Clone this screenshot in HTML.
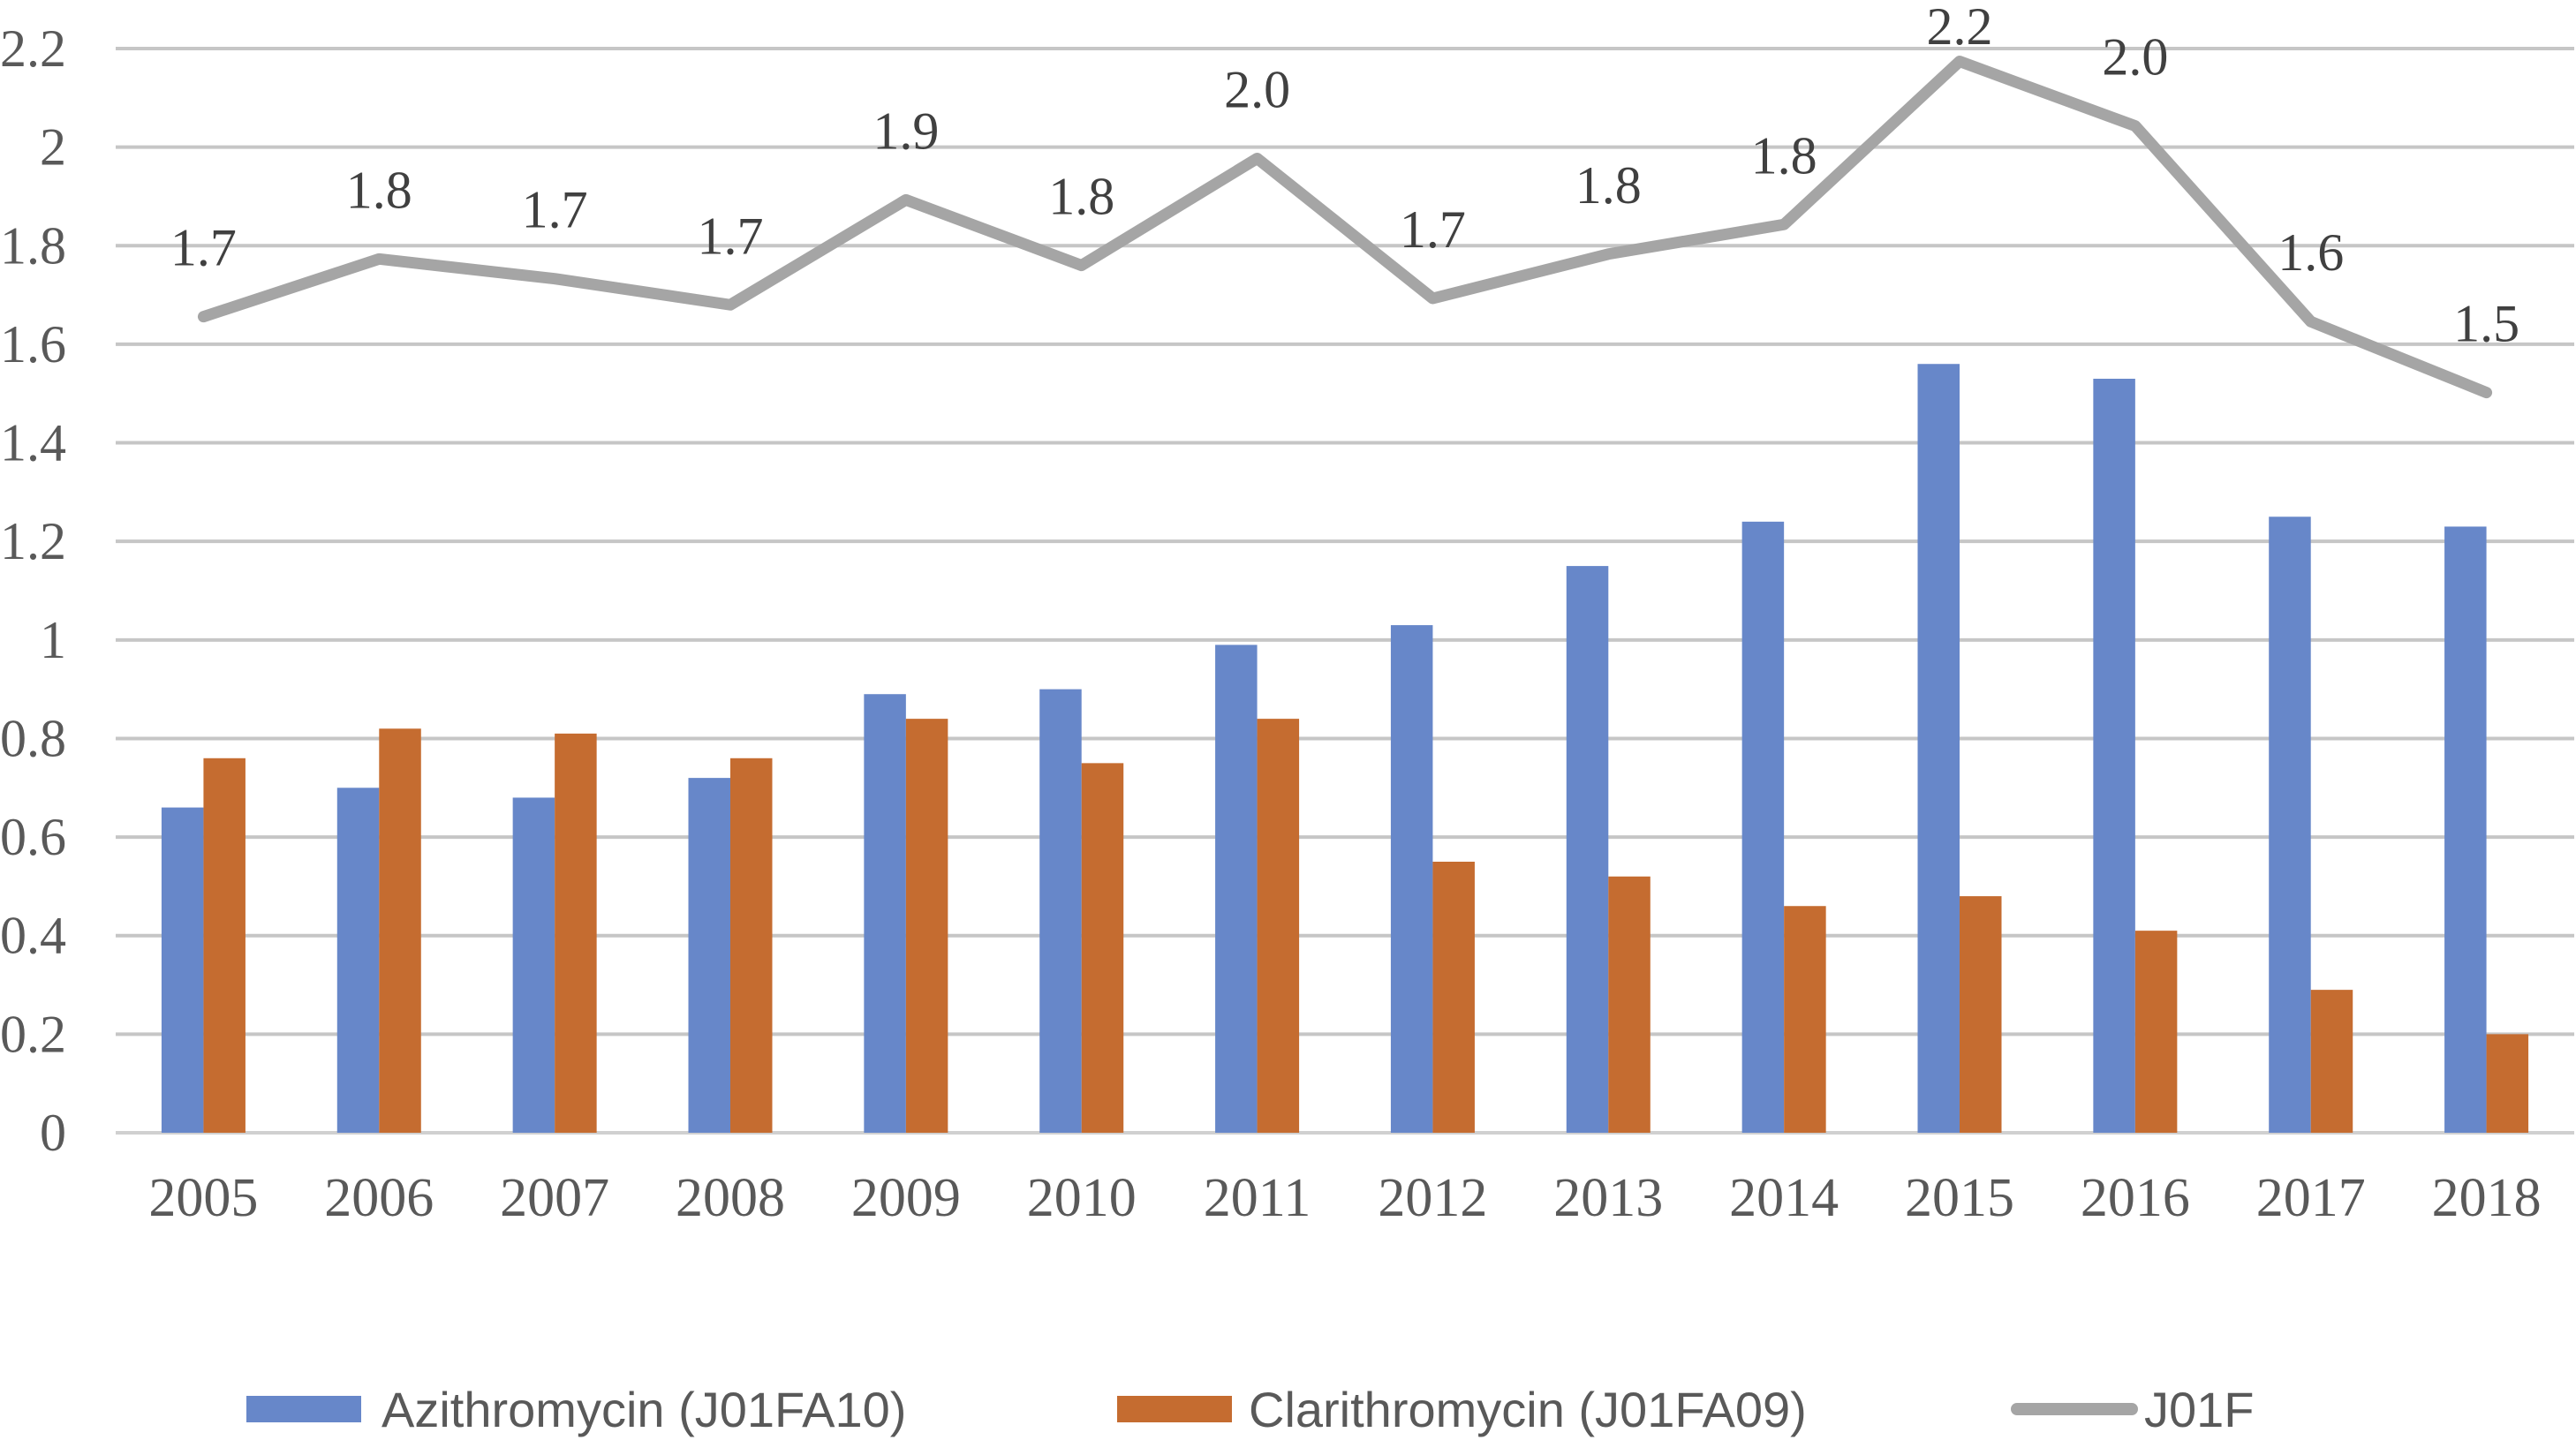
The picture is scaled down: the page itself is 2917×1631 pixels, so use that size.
<!DOCTYPE html>
<html><head><meta charset="utf-8"><style>
body{margin:0;background:#fff;}
svg{display:block;}
</style></head><body>
<svg id="chart" width="2917" height="1631" viewBox="0 0 2917 1631" xmlns="http://www.w3.org/2000/svg">
<g id="grid"></g>
<g id="yaxis"></g>
<g id="bars"></g>
<g id="line"></g>
<g id="xaxis"></g>
<g font-family="'Liberation Sans', sans-serif" font-size="56" fill="#595959">
  <rect x="279" y="1581" width="130" height="30" fill="#6787c9"/>
  <text x="432" y="1616">Azithromycin (J01FA10)</text>
  <rect x="1265" y="1581" width="130" height="30" fill="#c56c30"/>
  <text x="1414" y="1616">Clarithromycin (J01FA09)</text>
  <line x1="2284" y1="1596" x2="2414" y2="1596" stroke="#a5a5a5" stroke-width="14" stroke-linecap="round"/>
  <text x="2428" y="1616">J01F</text>
</g>
</svg>
<script>
const years = ["2005","2006","2007","2008","2009","2010","2011","2012","2013","2014","2015","2016","2017","2018"];
const azithro = [0.66,0.70,0.68,0.72,0.89,0.90,0.99,1.03,1.15,1.24,1.56,1.53,1.25,1.23];
const clarithro = [0.76,0.82,0.81,0.76,0.84,0.75,0.84,0.55,0.52,0.46,0.48,0.41,0.29,0.20];
const j01f = [1.656,1.773,1.733,1.68,1.893,1.76,1.977,1.693,1.783,1.843,2.174,2.043,1.646,1.502];
const j01fLabels = ["1.7","1.8","1.7","1.7","1.9","1.8","2.0","1.7","1.8","1.8","2.2","2.0","1.6","1.5"];
const yTicks = [0,0.2,0.4,0.6,0.8,1,1.2,1.4,1.6,1.8,2,2.2];
const yTickLabels = ["0","0.2","0.4","0.6","0.8","1","1.2","1.4","1.6","1.8","2","2.2"];

const NS="http://www.w3.org/2000/svg";
const L=131,R=2915,T=55,B=1283,YMAX=2.2;
const band=(R-L)/years.length;
const y=v=>B-(v/YMAX)*(B-T);
const xc=i=>L+band*(i+0.5);
const bw=47.5;
function mk(tag,attrs,parent){const e=document.createElementNS(NS,tag);for(const k in attrs)e.setAttribute(k,attrs[k]);document.getElementById(parent).appendChild(e);return e;}

yTicks.forEach((t,i)=>{
  const g=mk('line',{x1:L,x2:R,y1:y(t),y2:y(t),stroke:t===0?'#d0d0d0':'#c6c6c6','stroke-width':4},'grid');
  
  
  const tx=mk('text',{x:75,y:y(t)+20,'text-anchor':'end','font-family':"'Liberation Serif', serif",'font-size':60,fill:'#595959'},'yaxis');
  tx.textContent=yTickLabels[i];
  
  
});
years.forEach((yr,i)=>{
  const c=xc(i);
  const b1=mk('rect',{x:c-bw,y:y(azithro[i]),width:bw,height:B-y(azithro[i]),fill:'#6787c9'},'bars');
  
  
  const b2=mk('rect',{x:c,y:y(clarithro[i]),width:bw,height:B-y(clarithro[i]),fill:'#c56c30'},'bars');
  
  
  const tx=mk('text',{x:c,y:1377,'text-anchor':'middle','font-family':"'Liberation Serif', serif",'font-size':62,fill:'#595959'},'xaxis');
  tx.textContent=yr;
  
  
  const lb=mk('text',{x:c,y:Math.max(y(j01f[i])-58,50),'text-anchor':'middle','font-family':"'Liberation Serif', serif",'font-size':60,fill:'#404040'},'line');
  lb.textContent=j01fLabels[i];
  
  
});
const pts=j01f.map((v,i)=>xc(i)+','+y(v)).join(' ');
const pl=mk('polyline',{points:pts,fill:'none',stroke:'#a5a5a5','stroke-width':13,'stroke-linejoin':'round','stroke-linecap':'round'},'line');


</script>
</body></html>
